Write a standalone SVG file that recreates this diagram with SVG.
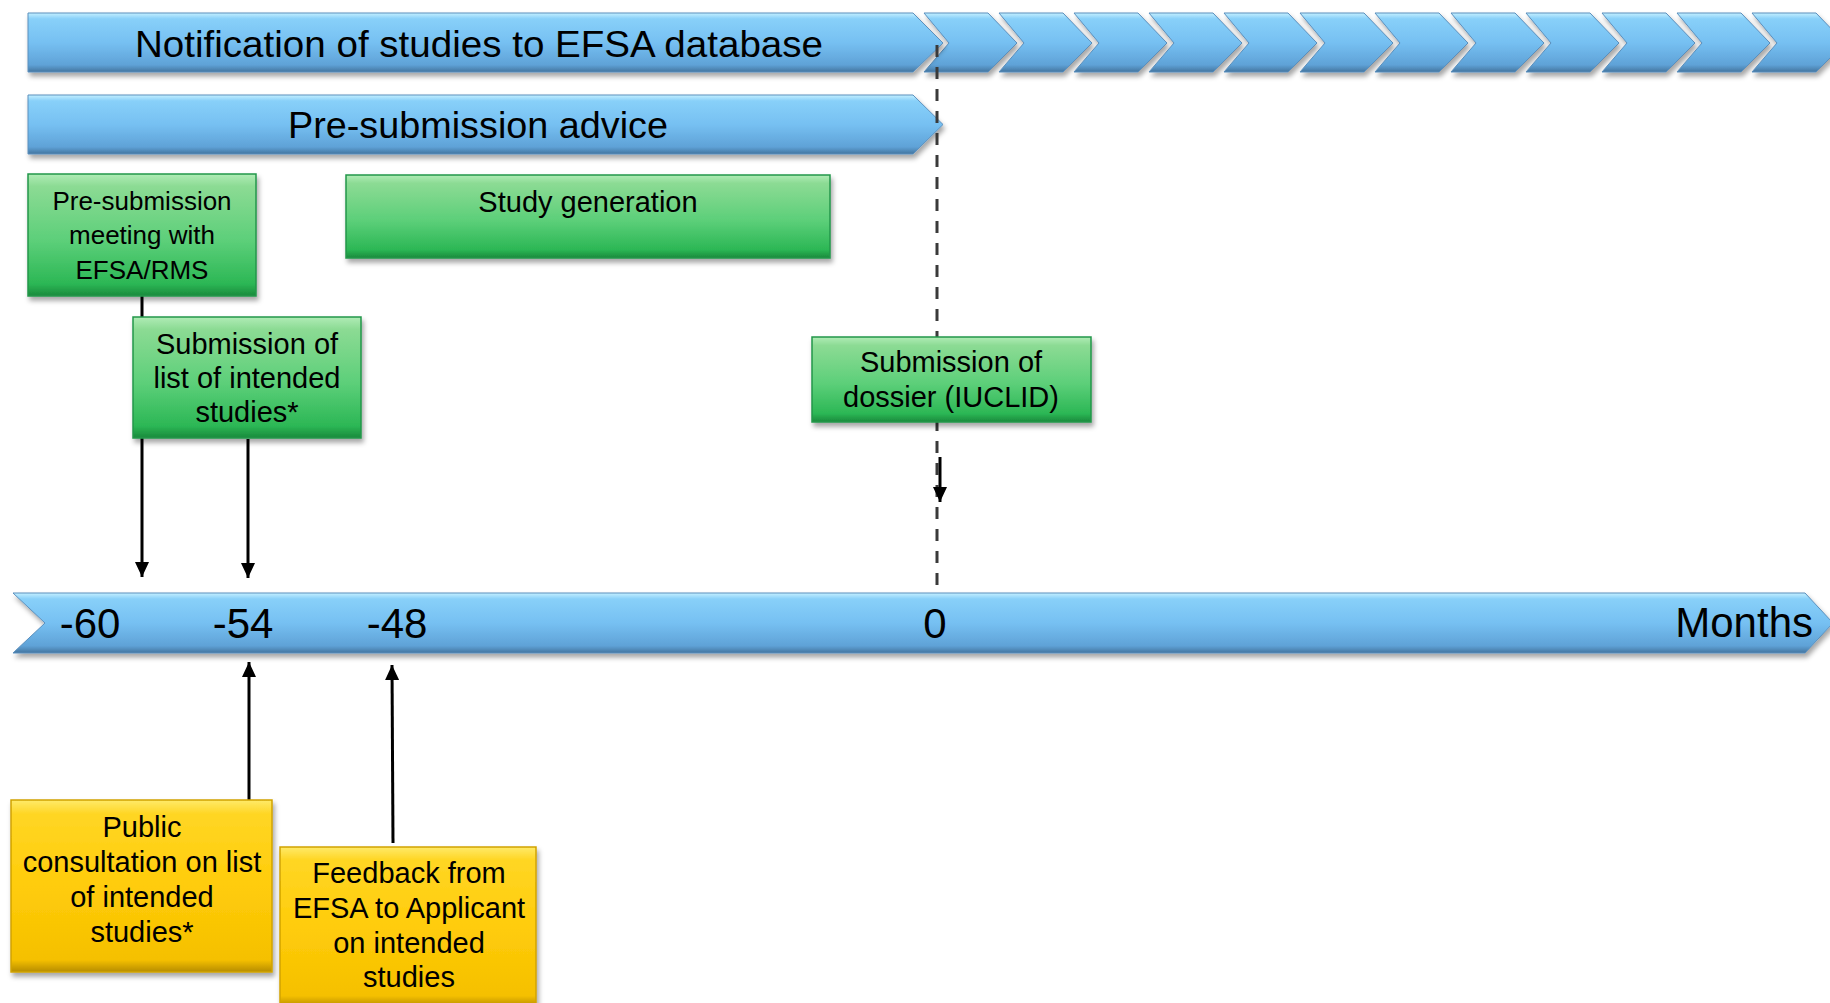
<svg xmlns="http://www.w3.org/2000/svg" width="1830" height="1003" viewBox="0 0 1830 1003">
  <defs>
    <linearGradient id="gBlue" x1="0" y1="0" x2="0" y2="1">
      <stop offset="0" stop-color="#c4efff"/>
      <stop offset="0.1" stop-color="#88d0f9"/>
      <stop offset="0.5" stop-color="#76c0f2"/>
      <stop offset="0.88" stop-color="#5fa2d7"/>
      <stop offset="1" stop-color="#44759f"/>
    </linearGradient>
    <linearGradient id="gGreen" x1="0" y1="0" x2="0" y2="1">
      <stop offset="0" stop-color="#b0ecb6"/>
      <stop offset="0.1" stop-color="#8cdb94"/>
      <stop offset="0.55" stop-color="#5ccf79"/>
      <stop offset="0.9" stop-color="#2cb755"/>
      <stop offset="1" stop-color="#1a8a3c"/>
    </linearGradient>
    <linearGradient id="gYellow" x1="0" y1="0" x2="0" y2="1">
      <stop offset="0" stop-color="#ffea6a"/>
      <stop offset="0.08" stop-color="#ffd624"/>
      <stop offset="0.5" stop-color="#ffcc0a"/>
      <stop offset="0.93" stop-color="#f5c000"/>
      <stop offset="1" stop-color="#b68c00"/>
    </linearGradient>
    <filter id="shadow" x="-5%" y="-10%" width="110%" height="135%">
      <feDropShadow dx="2" dy="4" stdDeviation="2.5" flood-color="#000" flood-opacity="0.35"/>
    </filter>
    <marker id="ah" markerUnits="userSpaceOnUse" markerWidth="16" markerHeight="14" refX="15" refY="7" orient="auto">
      <path d="M0,0 L15,7 L0,14 Z" fill="#000"/>
    </marker>
    <path id="chev" d="M0,13 L64,13 L93,43 L64,72 L0,72 L25,43 Z"/>
    <style>
      .bar { fill: url(#gBlue); stroke: #5a8fbd; stroke-width: 1; filter: url(#shadow); }
      .green { fill: url(#gGreen); stroke: #23964a; stroke-width: 1.5; filter: url(#shadow); }
      .yellow { fill: url(#gYellow); stroke: #d1a300; stroke-width: 1.5; filter: url(#shadow); }
      .cal { font-family: "Liberation Sans", Arial, sans-serif; fill: #000; text-anchor: middle; }
      .ar { font-family: "Liberation Sans", Arial, sans-serif; fill: #000; text-anchor: middle; font-size: 29px; }
      .tl { font-family: "Liberation Sans", Arial, sans-serif; fill: #000; text-anchor: middle; font-size: 42px; }
      .conn { stroke: #000; stroke-width: 3; fill: none; }
      .dash { stroke: #3a3a3a; stroke-width: 3; stroke-dasharray: 12 10; fill: none; }
    </style>
  </defs>

  <rect x="0" y="0" width="1830" height="1003" fill="#ffffff"/>

  <g id="chevrons">
    <use href="#chev" class="bar" x="924"/>
    <use href="#chev" class="bar" x="999"/>
    <use href="#chev" class="bar" x="1074"/>
    <use href="#chev" class="bar" x="1149"/>
    <use href="#chev" class="bar" x="1224"/>
    <use href="#chev" class="bar" x="1300"/>
    <use href="#chev" class="bar" x="1375"/>
    <use href="#chev" class="bar" x="1451"/>
    <use href="#chev" class="bar" x="1526"/>
    <use href="#chev" class="bar" x="1602"/>
    <use href="#chev" class="bar" x="1677"/>
    <use href="#chev" class="bar" x="1752"/>
  </g>

  <g id="notification">
    <path class="bar" d="M28,13 L913,13 L943,43 L913,72 L28,72 Z"/>
    <text class="cal" x="479" y="57" font-size="37" textLength="688" lengthAdjust="spacingAndGlyphs">Notification of studies to EFSA database</text>
  </g>

  <g id="presubmission-advice">
    <path class="bar" d="M28,95 L913,95 L943,124.5 L913,154 L28,154 Z"/>
    <text class="cal" x="478" y="138" font-size="37" textLength="380" lengthAdjust="spacingAndGlyphs">Pre-submission advice</text>
  </g>

  <g id="timeline">
    <path class="bar" d="M13,593 L1805,593 L1833,623 L1805,653 L13,653 L45,623 Z"/>
    <text class="tl" x="90" y="638">-60</text>
    <text class="tl" x="243" y="638">-54</text>
    <text class="tl" x="397" y="638">-48</text>
    <text class="tl" x="935" y="638">0</text>
    <text class="tl" x="1813" y="637" text-anchor="end" style="text-anchor:end">Months</text>
  </g>

  <g id="connectors">
    <line class="dash" x1="937" y1="45" x2="937" y2="593"/>
    <line class="conn" x1="142" y1="296" x2="142" y2="577" marker-end="url(#ah)"/>
    <line class="conn" x1="248" y1="439" x2="248" y2="578" marker-end="url(#ah)"/>
    <line class="conn" x1="249" y1="800" x2="249" y2="662" marker-end="url(#ah)"/>
    <line class="conn" x1="393" y1="843" x2="392" y2="665" marker-end="url(#ah)"/>
    <line class="conn" x1="940" y1="457" x2="940" y2="502" marker-end="url(#ah)"/>
  </g>

  <g id="presubmission-meeting">
    <rect class="green" x="28" y="174" width="228" height="122"/>
    <text class="cal" x="142" y="210" font-size="26">Pre-submission</text>
    <text class="cal" x="142" y="244" font-size="26">meeting with</text>
    <text class="cal" x="142" y="279" font-size="26">EFSA/RMS</text>
  </g>

  <g id="study-generation">
    <rect class="green" x="346" y="175" width="484" height="83"/>
    <text class="ar" x="588" y="212">Study generation</text>
  </g>

  <g id="submission-list">
    <rect class="green" x="133" y="317" width="228" height="121"/>
    <text class="ar" x="247" y="354">Submission of</text>
    <text class="ar" x="247" y="388">list of intended</text>
    <text class="ar" x="247" y="422">studies*</text>
  </g>

  <g id="submission-dossier">
    <rect class="green" x="812" y="337" width="279" height="85"/>
    <text class="ar" x="951" y="372">Submission of</text>
    <text class="ar" x="951" y="407">dossier (IUCLID)</text>
  </g>

  <g id="public-consultation">
    <rect class="yellow" x="11" y="800" width="261" height="172"/>
    <text class="ar" x="142" y="837">Public</text>
    <text class="ar" x="142" y="872">consultation on list</text>
    <text class="ar" x="142" y="907">of intended</text>
    <text class="ar" x="142" y="942">studies*</text>
  </g>

  <g id="feedback">
    <rect class="yellow" x="280" y="847" width="256" height="160"/>
    <text class="ar" x="409" y="883">Feedback from</text>
    <text class="ar" x="409" y="918">EFSA to Applicant</text>
    <text class="ar" x="409" y="953">on intended</text>
    <text class="ar" x="409" y="987">studies</text>
  </g>
</svg>
